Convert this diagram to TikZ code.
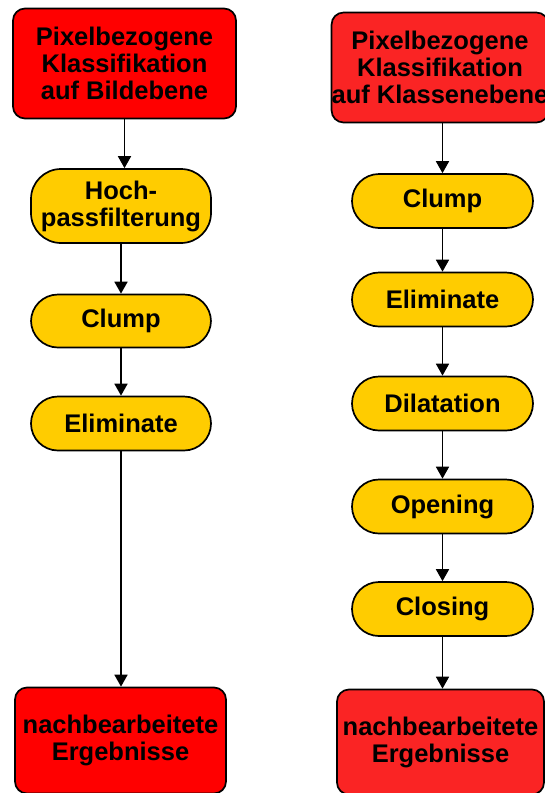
\documentclass[tikz,border=0pt]{standalone}
\usepackage{fontspec}
\setmainfont{Liberation Sans}
\usetikzlibrary{arrows.meta}

\definecolor{rossoA}{RGB}{255,0,0}
\definecolor{rossoB}{RGB}{250,36,36}
\definecolor{giallo}{RGB}{255,204,0}

\begin{document}
\begin{tikzpicture}[x=1pt, y=-1pt, thick]
	% Stili dei nodi e delle frecce
	\tikzset{
		testo/.style={font=\bfseries\fontsize{25.5}{27}\selectfont, align=center, inner sep=0pt, line width=1.7pt, draw=black},
		scatola/.style={testo, rounded corners=12pt},
		passo/.style={testo, fill=giallo, rounded corners=27pt, minimum width=181pt, minimum height=54pt},
		freccia/.style={-{Triangle[width=13pt,length=12pt]}, line width=1.8pt}
	}
	
	% Margini della figura
	\useasboundingbox (0,0) rectangle (545,793);
	
	% Colonna sinistra
	\node[scatola, fill=rossoA, minimum width=223pt, minimum height=110pt] (s0) at (124.5,63.5) {Pixelbezogene\\Klassifikation\\auf Bildebene};
	\node[passo, minimum width=180pt, minimum height=74pt, rounded corners=30pt] (s1) at (121,206) {Hoch-\\passfilterung};
	\node[passo, minimum width=180pt, minimum height=53pt] (s2) at (121,321) {Clump};
	\node[passo, minimum width=180pt] (s3) at (121,423.5) {Eliminate};
	\node[scatola, fill=rossoA, minimum width=211pt, minimum height=106pt] (s4) at (120.5,740.5) {nachbearbeitete\\Ergebnisse};
	
	% Colonna destra
	\node[scatola, fill=rossoB, minimum width=213pt, minimum height=110pt] (d0) at (440,67.5) {Pixelbezogene\\Klassifikation\\auf Klassenebene};
	\node[passo] (d1) at (442.5,201) {Clump};
	\node[passo] (d2) at (442.5,299.5) {Eliminate};
	\node[passo] (d3) at (442.5,403.5) {Dilatation};
	\node[passo] (d4) at (442.5,506.5) {Opening};
	\node[passo] (d5) at (442.5,609) {Closing};
	\node[scatola, fill=rossoB, minimum width=207pt, minimum height=105pt] (d6) at (440.5,742) {nachbearbeitete\\Ergebnisse};
	
	% Frecce a sinistra
	\draw[freccia] (s0.south) -- (s0.south |- s1.north);
	\draw[freccia] (s1) -- (s2);
	\draw[freccia] (s2) -- (s3);
	\draw[freccia] (s3) -- (s3 |- s4.north);
	
	% Frecce a destra
	\draw[freccia] (d0.south -| d1) -- (d1);
	\draw[freccia] (d1) -- (d2);
	\draw[freccia] (d2) -- (d3);
	\draw[freccia] (d3) -- (d4);
	\draw[freccia] (d4) -- (d5);
	\draw[freccia] (d5) -- (d5 |- d6.north);
\end{tikzpicture}
\end{document}
